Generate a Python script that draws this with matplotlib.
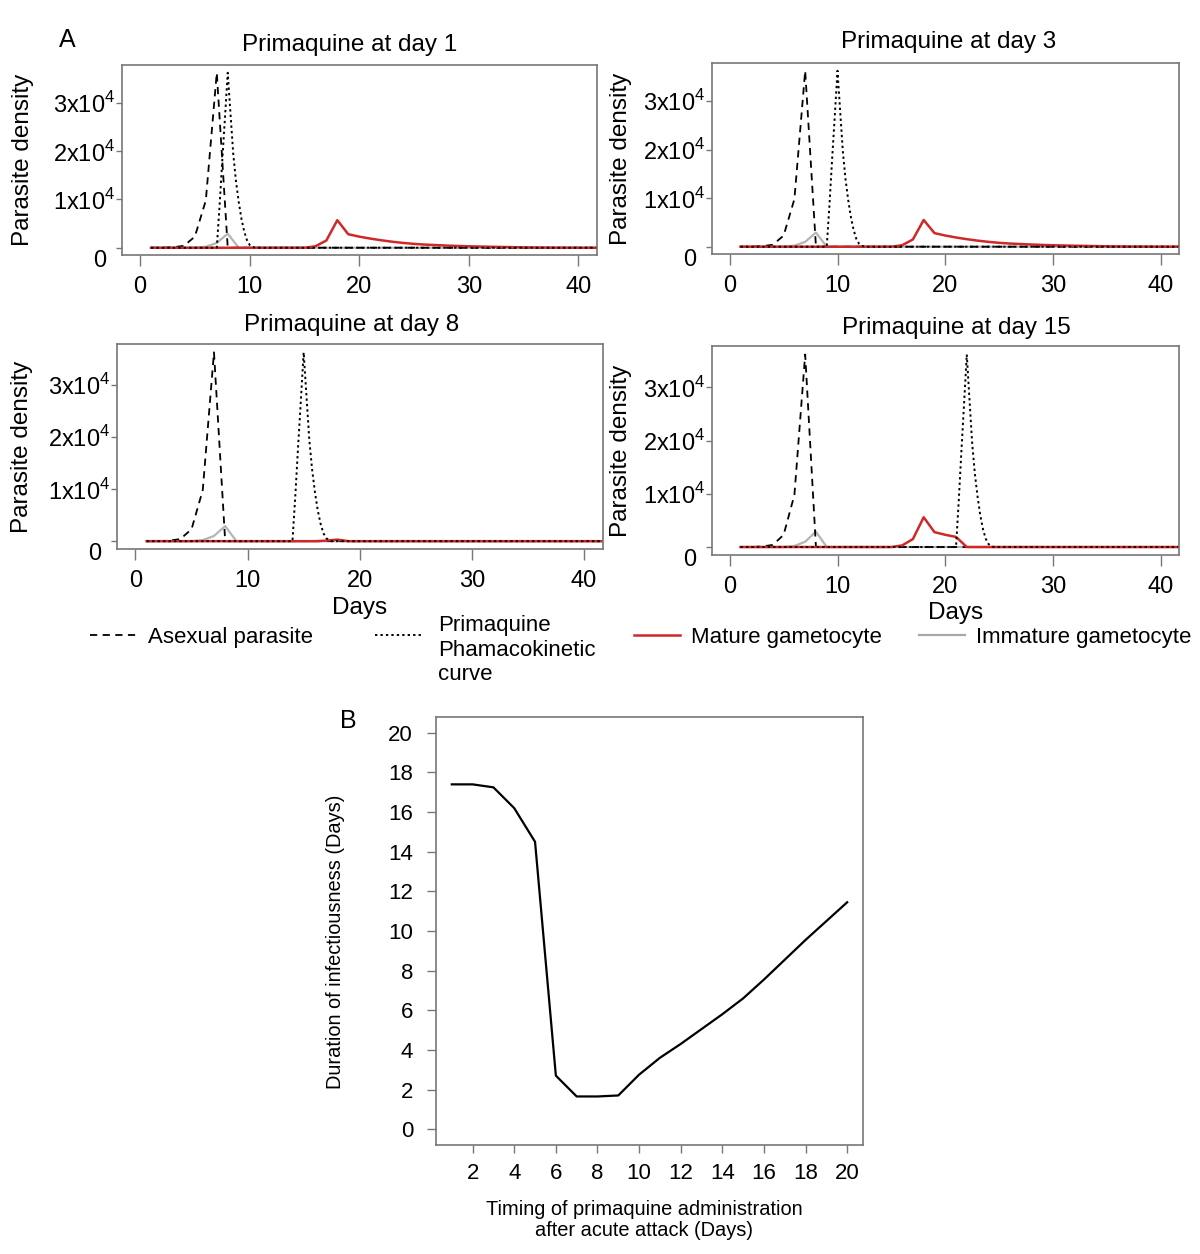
import matplotlib
matplotlib.use('Agg')
import matplotlib.pyplot as plt
import matplotlib.transforms as mtransforms

plt.rcParams['font.family'] = ['Liberation Sans', 'DejaVu Sans']
plt.rcParams['mathtext.fontset'] = 'custom'
plt.rcParams['mathtext.rm'] = 'Liberation Sans'

# ---- data, panel A ----
days = list(range(1, 43))

asexual = [0, 0, 100, 400, 2300, 9800, 36200, 0, 0, 0,
           0, 0, 0, 0, 0, 0, 0, 0, 0, 0,
           0, 0, 0, 0, 0, 0, 0, 0, 0, 0,
           0, 0, 0, 0, 0, 0, 0, 0, 0, 0,
           0, 0]

immature = [0, 0, 0, 0, 0, 200, 1000, 2900, 0, 0,
            0, 0, 0, 0, 0, 0, 0, 0, 0, 0,
            0, 0, 0, 0, 0, 0, 0, 0, 0, 0,
            0, 0, 0, 0, 0, 0, 0, 0, 0, 0,
            0, 0]

mature_day1 = [0, 0, 0, 0, 0, 0, 0, 0, 0, 0,
               0, 0, 0, 0, 0, 300, 1500, 5700, 2800, 2300,
               1900, 1550, 1250, 1000, 800, 650, 550, 450, 370, 300,
               250, 200, 160, 120, 80, 50, 30, 20, 10, 0,
               0, 0]
mature_day3 = [0, 0, 0, 0, 0, 0, 0, 0, 0, 0,
               0, 0, 0, 0, 0, 300, 1500, 5500, 2800, 2300,
               1900, 1550, 1250, 1000, 800, 650, 550, 450, 370, 300,
               250, 200, 160, 120, 80, 50, 30, 20, 10, 0,
               0, 0]
mature_day8 = [0, 0, 0, 0, 0, 0, 0, 0, 0, 0,
               0, 0, 0, 0, 0, 0, 100, 300, 0, 0,
               0, 0, 0, 0, 0, 0, 0, 0, 0, 0,
               0, 0, 0, 0, 0, 0, 0, 0, 0, 0,
               0, 0]
mature_day15 = [0, 0, 0, 0, 0, 0, 0, 0, 0, 0,
                0, 0, 0, 0, 0, 300, 1500, 5600, 2800, 2300,
                1900, 0, 0, 0, 0, 0, 0, 0, 0, 0,
                0, 0, 0, 0, 0, 0, 0, 0, 0, 0,
                0, 0]

# primaquine pharmacokinetic curve, relative to its peak day
pk_offsets = [-1.0, -0.75, -0.5, -0.25, 0.0, 0.25, 0.5, 0.75, 1.0,
              1.25, 1.5, 1.75, 2.0, 2.25, 2.5]
pk_values = [0, 8500, 18000, 27000, 36200, 27800, 19500, 13800, 9500,
             6000, 3400, 1600, 600, 200, 0]
pk_peak_days = [8, 10, 15, 22]

panel_titles = ['Primaquine at day 1', 'Primaquine at day 3',
                'Primaquine at day 8', 'Primaquine at day 15']
mature_series = [mature_day1, mature_day3, mature_day8, mature_day15]

# ---- data, panel B ----
timing = list(range(1, 21))
duration = [17.4, 17.4, 17.25, 16.2, 14.5, 2.7, 1.65, 1.65, 1.7, 2.75,
            3.6, 4.3, 5.05, 5.8, 6.6, 7.55, 8.55, 9.55, 10.5, 11.45]

W, H = 1200, 1254
fig = plt.figure(figsize=(12, 12.54), dpi=100)
GREY = '#777777'
RED = '#d02828'
LIGHT = '#b5b5b5'


def add_px_axes(x0, y0, x1, y1):
    return fig.add_axes([x0 / W, 1 - y1 / H, (x1 - x0) / W, (y1 - y0) / H])


rects = [(122, 65, 597, 255), (712, 63, 1179, 254),
         (117, 344, 603, 549), (712, 346, 1179, 555)]
title_pos = [(350, 45), (949, 42), (352, 325), (956, 328)]

for i in range(4):
    ax = add_px_axes(*rects[i])
    pk_x = [days[0]] + [pk_peak_days[i] + o for o in pk_offsets] + [days[-1]]
    pk_y = [0] + pk_values + [0]
    ax.plot(days, immature, color=LIGHT, lw=1.6)
    ax.plot(days, asexual, color='black', lw=1.3, dashes=(4, 3))
    ax.plot(days, mature_series[i], color=RED, lw=1.8)
    ax.plot(pk_x, pk_y, color='black', lw=1.4, dashes=(1.2, 1.6))

    ax.set_xlim(-1.65, 41.7)
    ax.set_ylim(-1500, 37800)
    ax.set_xticks([0, 10, 20, 30, 40])
    ax.set_yticks([0, 10000, 20000, 30000])
    ax.set_yticklabels(['', r'1x10$^{\mathrm{4}}$', r'2x10$^{\mathrm{4}}$',
                        r'3x10$^{\mathrm{4}}$'])
    ax.tick_params(axis='x', length=8, width=1, color=GREY, pad=7, labelsize=17)
    ax.tick_params(axis='y', length=4, width=1, color=GREY, pad=1, labelsize=17)
    for s in ax.spines.values():
        s.set_color(GREY)
        s.set_linewidth(1.2)
    # zero label sits below and left of its tick
    tr = mtransforms.offset_copy(ax.get_yaxis_transform(), fig=fig, x=-16, y=-13, units='dots')
    ax.text(0, 0, '0', transform=tr, ha='right', va='center', fontsize=17)
    ax.set_ylabel('Parasite density', fontsize=17.5)
    ax.yaxis.set_label_coords(-0.172 if i != 0 else -0.185, 0.5)
    fig.text(title_pos[i][0] / W, 1 - title_pos[i][1] / H, panel_titles[i],
             ha='center', va='center', fontsize=17.5)

fig.text(360 / W, 1 - 608 / H, 'Days', ha='center', va='center', fontsize=17.5)
fig.text(956 / W, 1 - 613 / H, 'Days', ha='center', va='center', fontsize=17.5)
fig.text(67 / W, 1 - 40 / H, 'A', ha='center', va='center', fontsize=18)
fig.text(348 / W, 1 - 721 / H, 'B', ha='center', va='center', fontsize=18)

# legend row
leg_items = [
    (90, 'Asexual parasite', dict(color='black', lw=1.3, dashes=(4, 3)), 0.55),
    (375, '', dict(color='black', lw=1.4, dashes=(1.2, 1.6)), 0.8),
    (634, 'Mature gametocyte', dict(color=RED, lw=1.8), 0.5),
    (919, 'Immature gametocyte', dict(color='#a8a8a8', lw=1.6), 0.5),
]
for x0, lab, style, pad in leg_items:
    h, = plt.plot([], [], **style)
    fig.legend([h], [lab], loc='center left',
               bbox_to_anchor=(x0 / W, 1 - 637 / H), frameon=False,
               fontsize=16, handlelength=2.05, handletextpad=pad,
               borderpad=0, borderaxespad=0)
fig.text(438 / W, 1 - 650 / H, 'Primaquine\nPhamacokinetic\ncurve',
         ha='left', va='center', fontsize=16, linespacing=1.25)

# ---- panel B ----
axb = add_px_axes(436, 717, 863, 1145)
axb.plot(timing, duration, color='black', lw=1.6)
axb.set_xlim(0.24, 20.76)
axb.set_ylim(-0.8, 20.8)
axb.set_xticks(range(2, 21, 2))
axb.set_yticks(range(0, 21, 2))
axb.tick_params(axis='x', length=6, width=1, color=GREY, pad=7, labelsize=16)
axb.tick_params(axis='y', length=6.5, width=1, color=GREY, pad=10, labelsize=16)
for s in axb.spines.values():
    s.set_color(GREY)
    s.set_linewidth(1.2)
axb.set_ylabel('Duration of infectiousness (Days)', fontsize=14.4)
axb.yaxis.set_label_coords(-0.213, 0.475)
axb.set_xlabel('Timing of primaquine administration\nafter acute attack (Days)',
               fontsize=14.4, linespacing=1.15)
axb.xaxis.label.set_va('center')
axb.xaxis.set_label_coords(0.487, -0.175)

fig.savefig('out.png', dpi=100)
